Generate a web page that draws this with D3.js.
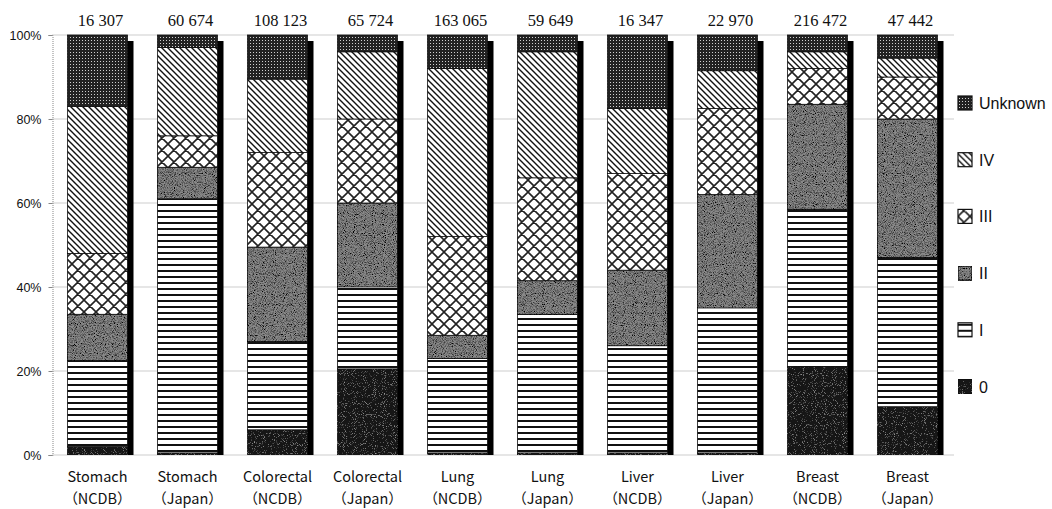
<!DOCTYPE html>
<html>
<head>
<meta charset="utf-8">
<script src="https://cdn.jsdelivr.net/npm/d3@7"></script>
<style>
  html, body { margin: 0; padding: 0; background: #fff; }
  svg { display: block; }
</style>
</head>
<body>
<svg id="chart" width="1052" height="509"></svg>
<script>
// Cancer sites / registries along the x axis
const sites = ["Stomach", "Stomach", "Colorectal", "Colorectal", "Lung", "Lung", "Liver", "Liver", "Breast", "Breast"];
const sources = ["（NCDB）", "（Japan）", "（NCDB）", "（Japan）", "（NCDB）", "（Japan）", "（NCDB）", "（Japan）", "（NCDB）", "（Japan）"];
const caseCounts = ["16 307", "60 674", "108 123", "65 724", "163 065", "59 649", "16 347", "22 970", "216 472", "47 442"];

// Stage distribution, percent of cases in each bar (bottom to top)
const stage0       = [2,    0.5,  6,    20.5, 0.5,  0.5,  0.5,  0.5,  21,   11.5];
const stageI       = [20.5, 60.5, 21,   19.5, 22.5, 33,   25.5, 34.5, 37.5, 35.5];
const stageII      = [11,   7.5,  22.5, 20,   5.5,  8,    18,   27,   25,   33];
const stageIII     = [14.5, 7.5,  22.5, 20,   23.5, 24.5, 23,   20.5, 8.5,  10];
const stageIV      = [35,   21,   17.5, 16,   40,   30,   15.5, 9,    4,    4.5];
const stageUnknown = [17,   3,    10.5, 4,    8,    4,    17.5, 8.5,  4,    5.5];

const stageNames = ["0", "I", "II", "III", "IV", "Unknown"];
const yTicks = [0, 20, 40, 60, 80, 100];

const svg = d3.select("#chart");
const defs = svg.append("defs");

// Grain textures for the stippled fills
function grain(id, alphaScale, alphaOffset, color) {
  const f = defs.append("filter").attr("id", id)
    .attr("x", 0).attr("y", 0).attr("width", "100%").attr("height", "100%");
  f.append("feTurbulence").attr("type", "fractalNoise").attr("baseFrequency", 1.1)
    .attr("numOctaves", 1).attr("seed", 7).attr("result", "noise");
  f.append("feColorMatrix").attr("in", "noise").attr("type", "matrix")
    .attr("values", `0 0 0 0 ${color} 0 0 0 0 ${color} 0 0 0 0 ${color} ${alphaScale} 0 0 0 ${alphaOffset}`)
    .attr("result", "specks");
  f.append("feComposite").attr("in", "specks").attr("in2", "SourceGraphic")
    .attr("operator", "in").attr("result", "clipped");
  const m = f.append("feMerge");
  m.append("feMergeNode").attr("in", "SourceGraphic");
  m.append("feMergeNode").attr("in", "clipped");
}
grain("grainDark", 3.2, -1.3, 0);     // dark specks on mid grey
grain("grainLight", 3.0, -1.75, 0.45); // faint specks on near-black

function pattern(id, w, h) {
  return defs.append("pattern").attr("id", id)
    .attr("patternUnits", "userSpaceOnUse").attr("width", w).attr("height", h);
}

// Stage I: horizontal rules
const pI = pattern("pI", 8, 6);
pI.append("rect").attr("width", 8).attr("height", 6).attr("fill", "#fff");
pI.append("rect").attr("y", 0).attr("width", 8).attr("height", 2).attr("fill", "#111");

// Stage III: diamond cross-hatch
const pIII = pattern("pIII", 12, 12);
pIII.append("rect").attr("width", 12).attr("height", 12).attr("fill", "#fff");
pIII.append("path").attr("d", "M0,0L12,12M12,0L0,12M-1,11L1,13M11,-1L13,1M-1,1L1,-1M11,13L13,11")
  .attr("stroke", "#222").attr("stroke-width", 1.6).attr("fill", "none");

// Stage IV: back-slash diagonals
const pIV = pattern("pIV", 6, 6);
pIV.append("rect").attr("width", 6).attr("height", 6).attr("fill", "#fff");
pIV.append("path").attr("d", "M0,0L6,6M-1,5L1,7M5,-1L7,1")
  .attr("stroke", "#111").attr("stroke-width", 1.4).attr("fill", "none");

// Unknown: dark dotted screen
const pU = pattern("pU", 3, 3);
pU.append("rect").attr("width", 3).attr("height", 3).attr("fill", "#222");
pU.append("rect").attr("x", 1).attr("y", 1).attr("width", 1).attr("height", 1).attr("fill", "#cfcfcf");

const stageFill = {
  "0": { fill: "#181818", filter: "url(#grainLight)" },
  "I": { fill: "url(#pI)" },
  "II": { fill: "#8a8a8a", filter: "url(#grainDark)" },
  "III": { fill: "url(#pIII)" },
  "IV": { fill: "url(#pIV)" },
  "Unknown": { fill: "url(#pU)" }
};

const plotLeft = 52.5, plotRight = 952.5, plotTop = 35, plotBottom = 455;
const ids = d3.range(sites.length);

const x = d3.scaleBand().domain(ids).range([plotLeft, plotRight])
  .paddingInner(1 / 3).paddingOuter(1 / 6);
const y = d3.scaleLinear().domain([0, 100]).range([plotBottom, plotTop]);

// Gridlines
svg.append("g").selectAll("line").data(yTicks).join("line")
  .attr("x1", plotLeft).attr("x2", plotRight + 1)
  .attr("y1", d => y(d)).attr("y2", d => y(d))
  .attr("stroke", "#9a9a9a").attr("stroke-width", 1).attr("stroke-dasharray", "1,1");

// Y axis
const yAxis = svg.append("g").attr("transform", `translate(${plotLeft},0)`)
  .call(d3.axisLeft(y).tickValues(yTicks).tickSize(4).tickPadding(7).tickFormat(d => d + "%"));
yAxis.select(".domain").attr("stroke", "#888").attr("stroke-dasharray", "1,1");
yAxis.selectAll(".tick line").attr("stroke", "#888");
yAxis.selectAll(".tick text").attr("fill", "#111")
  .style("font-family", "'Liberation Sans', Arial, sans-serif").style("font-size", "12.5px");

// Stack the stages
const rows = ids.map(i => ({
  i,
  "0": stage0[i], "I": stageI[i], "II": stageII[i],
  "III": stageIII[i], "IV": stageIV[i], "Unknown": stageUnknown[i]
}));
const stacked = d3.stack().keys(stageNames)(rows);

// Drop shadows behind each bar
const shadow = 6;
svg.append("g").selectAll("rect").data(ids).join("rect")
  .attr("x", i => x(i) + shadow)
  .attr("y", i => y(100) + shadow)
  .attr("width", x.bandwidth())
  .attr("height", i => y(0) - y(100) - shadow)
  .attr("fill", "#000");

// Stacked segments
const segG = svg.append("g");
stacked.forEach(layer => {
  const st = stageFill[layer.key];
  segG.append("g").selectAll("rect").data(layer).join("rect")
    .attr("x", d => x(d.data.i))
    .attr("y", d => y(d[1]))
    .attr("width", x.bandwidth())
    .attr("height", d => y(d[0]) - y(d[1]))
    .attr("fill", st.fill)
    .attr("filter", st.filter || null)
    .attr("stroke", "#111").attr("stroke-width", 0.8);
});

// Case counts above the bars
svg.append("g").selectAll("text").data(ids).join("text")
  .attr("x", i => x(i) + x.bandwidth() / 2 + 3)
  .attr("y", 26)
  .attr("text-anchor", "middle")
  .style("font-family", "'Liberation Serif', 'DejaVu Serif', serif")
  .style("font-size", "16.5px")
  .attr("fill", "#111")
  .text(i => caseCounts[i]);

// Category labels
const lab = svg.append("g").selectAll("text").data(ids).join("text")
  .attr("text-anchor", "middle")
  .style("font-family", "'Noto Sans CJK JP', sans-serif")
  .style("font-size", "14.5px")
  .attr("fill", "#111");
lab.append("tspan").attr("x", i => x(i) + x.bandwidth() / 2).attr("y", 482).text(i => sites[i]);
lab.append("tspan").attr("x", i => x(i) + x.bandwidth() / 2).attr("y", 504).text(i => sources[i]);

// Legend, top entry first
const legendOrder = stageNames.slice().reverse();
const lg = svg.append("g").selectAll("g").data(legendOrder).join("g")
  .attr("transform", (d, k) => `translate(958,${103 + k * 56.7})`);
lg.append("rect").attr("x", 0).attr("y", -7).attr("width", 14).attr("height", 14)
  .attr("fill", d => stageFill[d].fill)
  .attr("filter", d => stageFill[d].filter || null)
  .attr("stroke", "#111").attr("stroke-width", 1.2);
lg.append("text").attr("x", 21).attr("y", 6)
  .style("font-family", "'Liberation Sans', Arial, sans-serif")
  .style("font-size", "16px").attr("fill", "#111")
  .text(d => d);
</script>
</body>
</html>
